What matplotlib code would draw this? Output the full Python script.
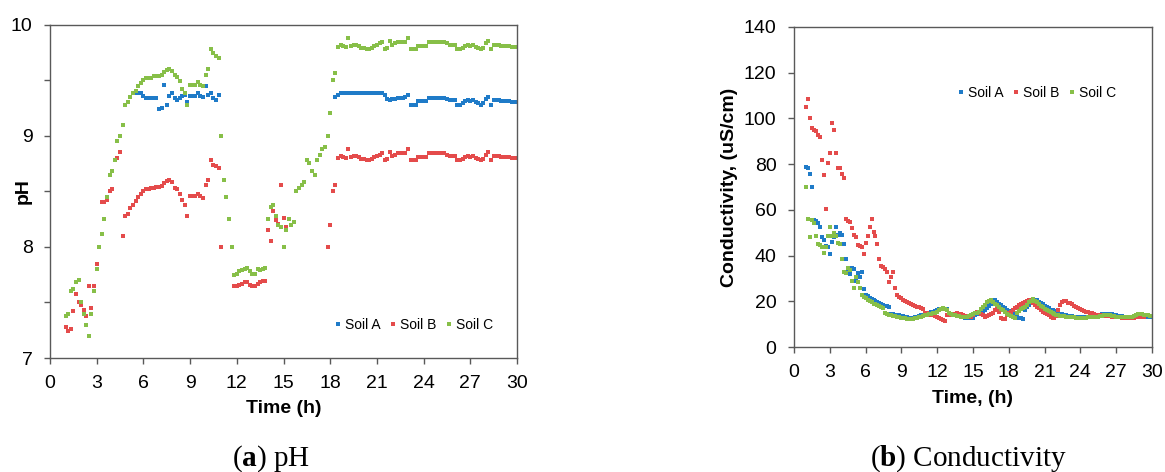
import numpy as np
import matplotlib
matplotlib.use("Agg")
import matplotlib.pyplot as plt
from matplotlib.ticker import MultipleLocator

nan = np.nan

# sampling every 10 minutes from 1 h to 30 h (6 readings per row = 1 hour)
hours = 1 + np.arange(175) / 6

series_names = ["Soil A", "Soil B", "Soil C"]
colors = ["#1f7bc8", "#e44b4b", "#87bf48"]

# ---- pH readings ----
ph_a = [
    nan, nan, nan, nan, nan, nan,
    nan, nan, nan, nan, nan, nan,
    nan, nan, nan, nan, nan, nan,
    nan, nan, nan, nan, nan, nan,
    nan, nan, 9.38, 9.38, 9.38, 9.38,
    9.36, 9.34, 9.34, 9.34, 9.34, 9.34,
    9.24, 9.25, 9.46, 9.28, 9.36, 9.38,
    9.34, 9.32, 9.34, 9.36, 9.37, 9.30,
    9.36, 9.36, 9.36, 9.38, 9.36, 9.35,
    9.45, 9.37, 9.38, 9.34, 9.32, 9.37,
    nan, nan, nan, nan, nan, nan,
    nan, nan, nan, nan, nan, nan,
    nan, nan, nan, nan, nan, nan,
    nan, nan, nan, nan, nan, nan,
    nan, nan, nan, nan, nan, nan,
    nan, nan, nan, nan, nan, nan,
    nan, nan, nan, nan, nan, nan,
    nan, nan, 9.35, 9.37, 9.38, 9.38,
    9.38, 9.38, 9.38, 9.38, 9.38, 9.38,
    9.38, 9.38, 9.38, 9.38, 9.38, 9.38,
    9.38, 9.38, 9.38, 9.37, 9.33, 9.32,
    9.33, 9.33, 9.34, 9.34, 9.34, 9.35,
    9.37, 9.28, 9.28, 9.28, 9.31, 9.31,
    9.31, 9.31, 9.34, 9.34, 9.34, 9.34,
    9.34, 9.34, 9.34, 9.33, 9.32, 9.32,
    9.32, 9.28, 9.28, 9.29, 9.31, 9.32,
    9.31, 9.32, 9.30, 9.29, 9.28, 9.29,
    9.33, 9.35, 9.28, 9.32, 9.32, 9.32,
    9.31, 9.31, 9.31, 9.31, 9.30, 9.30,
    9.30,
]
ph_b = [
    7.28, 7.24, 7.26, 7.42, 7.58, 7.50,
    7.48, 7.43, 7.38, 7.65, 7.45, 7.65,
    7.85, nan, 8.40, 8.40, 8.42, 8.50,
    8.52, nan, 8.80, 8.85, 8.10, 8.28,
    8.30, 8.35, 8.38, 8.41, 8.45, 8.48,
    8.50, 8.52, 8.52, 8.53, 8.53, 8.54,
    8.54, 8.55, 8.57, 8.59, 8.60, 8.58,
    8.53, 8.52, 8.48, 8.42, 8.38, 8.28,
    8.46, 8.46, 8.46, 8.48, 8.46, 8.44,
    8.56, 8.60, 8.78, 8.74, 8.73, 8.71,
    8.00, nan, nan, nan, nan, 7.65,
    7.65, 7.66, 7.67, 7.68, 7.68, 7.66,
    7.65, 7.65, 7.67, 7.68, 7.69, 7.69,
    8.15, 8.05, 8.32, 8.24, 8.21, 8.56,
    8.26, 8.18, nan, nan, nan, nan,
    nan, nan, nan, nan, nan, nan,
    nan, nan, nan, nan, nan, 8.00,
    8.20, 8.50, 8.56, 8.80, 8.82, 8.81,
    8.80, 8.88, 8.81, 8.82, 8.82, 8.81,
    8.79, 8.79, 8.78, 8.78, 8.79, 8.81,
    8.82, 8.83, 8.84, 8.78, 8.79, 8.85,
    8.82, 8.83, 8.84, 8.84, 8.84, 8.84,
    8.88, 8.78, 8.78, 8.78, 8.81, 8.81,
    8.81, 8.81, 8.84, 8.84, 8.84, 8.84,
    8.84, 8.84, 8.84, 8.83, 8.82, 8.82,
    8.82, 8.78, 8.78, 8.79, 8.81, 8.82,
    8.81, 8.82, 8.80, 8.79, 8.78, 8.79,
    8.83, 8.85, 8.78, 8.82, 8.82, 8.82,
    8.81, 8.81, 8.81, 8.81, 8.80, 8.80,
    8.80,
]
ph_c = [
    7.38, 7.40, 7.60, 7.62, 7.68, 7.70,
    7.50, 7.40, 7.30, 7.20, 7.40, 7.60,
    7.80, 8.00, 8.12, 8.25, 8.45, 8.65,
    8.68, 8.78, 8.95, 9.00, 9.10, 9.28,
    9.30, 9.35, 9.38, 9.40, 9.45, 9.47,
    9.50, 9.52, 9.52, 9.52, 9.54, 9.54,
    9.54, 9.55, 9.57, 9.59, 9.60, 9.58,
    9.55, 9.53, 9.49, 9.42, 9.38, 9.28,
    9.46, 9.46, 9.46, 9.48, 9.46, 9.45,
    9.55, 9.60, 9.78, 9.74, 9.72, 9.70,
    9.00, 8.60, 8.45, 8.25, 8.00, 7.75,
    7.76, 7.78, 7.79, 7.80, 7.81, 7.78,
    7.76, 7.76, 7.80, 7.79, 7.80, 7.81,
    8.25, 8.36, 8.38, 8.28, 8.20, 8.18,
    8.00, 8.15, 8.25, 8.20, 8.22, 8.50,
    8.53, 8.56, 8.58, 8.78, 8.75, 8.68,
    8.65, 8.78, 8.83, 8.88, 8.90, 9.00,
    9.20, 9.50, 9.56, 9.80, 9.82, 9.81,
    9.80, 9.88, 9.81, 9.82, 9.82, 9.81,
    9.79, 9.79, 9.78, 9.78, 9.79, 9.81,
    9.82, 9.83, 9.84, 9.78, 9.79, 9.85,
    9.82, 9.83, 9.84, 9.84, 9.84, 9.84,
    9.88, 9.78, 9.78, 9.78, 9.81, 9.81,
    9.81, 9.81, 9.84, 9.84, 9.84, 9.84,
    9.84, 9.84, 9.84, 9.83, 9.82, 9.82,
    9.82, 9.78, 9.78, 9.79, 9.81, 9.82,
    9.81, 9.82, 9.80, 9.79, 9.78, 9.79,
    9.83, 9.85, 9.78, 9.82, 9.82, 9.82,
    9.81, 9.81, 9.81, 9.81, 9.80, 9.80,
    9.80,
]

# ---- conductivity readings (uS/cm) ----
cond_a = [
    78.8, 78.2, 75.7, 70.1, 55.6, 55.0,
    54.4, 52.6, 48.3, 47.0, 44.2, 43.9,
    40.7, 46.1, 48.3, 52.6, 49.0, 49.7,
    48.8, 45.1, 38.4, 33.4, 31.8, 34.4,
    34.0, 28.9, 32.2, 30.8, 33.0, 25.5,
    22.8, 22.2, 21.6, 21.0, 20.5, 20.1,
    19.7, 19.3, 18.9, 18.5, 18.1, 17.8,
    17.4, 14.5, 14.3, 14.1, 14.0, 13.8,
    13.6, 13.4, 13.3, 13.1, 12.9, 12.7,
    12.5, 13.0, 13.3, 13.6, 13.8, 14.0,
    14.3, 14.6, 15.0, 15.3, 15.5, 15.8,
    16.2, 16.5, 16.8, 17.0, 16.8, 16.5,
    14.5, 14.2, 14.0, 13.8, 13.6, 13.4,
    13.3, 13.0, 12.8, 12.6, 12.5, 12.5,
    12.6, 14.0, 14.3, 14.6, 14.8, 15.2,
    16.0, 17.0, 18.0, 19.0, 19.8, 20.5,
    19.5, 18.8, 18.2, 17.6, 17.0, 16.4,
    15.8, 15.2, 14.6, 14.0, 13.4, 12.8,
    12.5, 12.4, 16.0, 17.5, 18.5, 19.2,
    19.8, 20.4, 20.6, 19.9, 19.2, 18.6,
    18.0, 17.4, 16.9, 16.4, 16.0, 15.6,
    15.2, 14.9, 14.6, 14.3, 14.1, 13.9,
    13.7, 13.5, 13.4, 13.3, 13.2, 13.2,
    13.1, 13.1, 13.1, 13.0, 13.0, 13.0,
    13.0, 13.1, 13.3, 13.6, 14.0, 14.3,
    14.5, 14.6, 14.6, 14.5, 14.3, 14.0,
    13.8, 13.6, 13.5, 13.4, 13.3, 13.3,
    13.2, 13.2, 13.2, 13.3, 13.4, 13.5,
    13.6, 13.5, 13.4, 13.4, 13.3, 13.3,
    13.3,
]
cond_b = [
    104.9, 108.4, 100.0, 95.7, 94.9, 94.6,
    92.8, 91.7, 81.8, 75.4, 60.4, 80.6,
    85.0, 98.1, 94.9, 84.7, 78.5, 78.2,
    75.7, 74.1, 55.9, 55.3, 54.5, 52.2,
    49.0, 48.0, 44.6, 44.3, 43.9, 40.7,
    45.4, 48.6, 52.6, 55.9, 50.5, 48.6,
    45.1, 38.4, 35.6, 34.9, 34.1, 33.0,
    28.6, 30.8, 32.7, 25.7, 22.8, 22.0,
    21.3, 20.6, 20.1, 19.7, 19.2, 18.8,
    18.3, 18.0, 17.7, 17.4, 17.1, 16.8,
    15.0, 14.7, 14.4, 14.0, 13.8, 13.5,
    13.3, 12.8, 12.1, 11.8, 11.5, 14.0,
    14.2, 14.4, 14.5, 14.6, 14.7, 14.5,
    14.3, 14.0, 13.6, 13.3, 13.0, 13.2,
    14.0, 14.7, 15.3, 15.5, 14.5, 13.8,
    13.3, 13.5, 14.0, 14.4, 14.7, 16.0,
    16.9, 15.5, 12.5, 12.3, 12.1, 14.0,
    15.0, 15.5, 16.3, 16.9, 17.5, 18.2,
    18.8, 19.1, 19.5, 20.0, 20.6, 20.0,
    19.1, 18.4, 17.6, 16.9, 16.2, 15.5,
    14.9, 14.3, 13.8, 13.3, 12.9, 12.5,
    13.5, 16.0, 18.4, 19.5, 20.3, 20.0,
    19.4, 19.1, 18.6, 18.1, 17.6, 17.1,
    16.6, 16.2, 15.8, 15.4, 15.1, 14.8,
    14.7, 14.4, 14.2, 14.0, 13.9, 13.8,
    13.7, 13.6, 13.5, 13.4, 13.3, 13.2,
    13.1, 13.0, 13.0, 12.9, 12.9, 12.9,
    12.9, 12.9, 12.9, 12.9, 13.0, 13.0,
    13.1, 13.1, 13.0, nan, nan, nan,
    nan,
]
cond_c = [
    70.1, 56.0, 48.3, 55.6, 54.4, 48.6,
    45.1, 44.6, 43.9, 41.0, 43.9, 48.6,
    52.6, 48.6, 49.7, 48.6, 45.4, 45.0,
    38.4, 32.7, 32.2, 34.4, 33.7, 28.9,
    25.7, 30.8, 28.6, 25.7, 22.8, 22.0,
    21.3, 20.6, 20.0, 19.5, 19.0, 18.6,
    18.2, 17.8, 17.4, 17.0, 14.7, 14.4,
    14.0, 13.8, 13.6, 13.4, 13.2, 13.0,
    12.9, 12.7, 12.5, 12.3, 12.1, 12.2,
    12.4, 12.6, 12.8, 13.0, 13.3, 13.6,
    13.8, 14.0, 14.3, 14.5, 14.7, 15.0,
    15.5, 16.0, 16.5, 16.9, 16.6, 16.2,
    14.7, 14.4, 14.1, 13.8, 13.6, 13.4,
    13.3, 13.1, 13.0, 13.0, 13.5, 14.0,
    14.5, 14.8, 15.0, 15.5, 16.5, 17.5,
    18.5, 19.5, 20.3, 20.6, 19.8, 19.0,
    18.3, 17.6, 16.8, 16.0, 15.3, 14.6,
    14.0, 13.5, 13.0, 12.6, 15.0, 15.8,
    16.5, 16.9, 17.5, 18.5, 19.5, 20.3,
    20.9, 20.3, 19.5, 18.8, 18.1, 17.4,
    16.8, 16.2, 15.6, 15.1, 14.7, 14.4,
    14.1, 13.9, 13.7, 13.5, 13.4, 13.3,
    13.2, 13.1, 13.0, 13.0, 12.9, 12.9,
    12.9, 12.9, 12.9, 12.9, 13.0, 13.0,
    13.0, 13.0, 13.1, 13.2, 13.4, 13.6,
    13.8, 14.0, 14.0, 13.9, 13.7, 13.5,
    13.3, 13.2, 13.1, 13.0, 13.0, 13.0,
    13.0, 13.1, 13.3, 13.6, 14.0, 14.3,
    14.5, 14.4, 14.2, 14.0, 13.8, 13.6,
    13.4,
]

plt.rcParams["font.family"] = ["Liberation Sans", "DejaVu Sans"]
plt.rcParams["mathtext.fontset"] = "custom"
plt.rcParams["mathtext.rm"] = "Liberation Serif"
plt.rcParams["mathtext.bf"] = "Liberation Serif:bold"

fig = plt.figure(figsize=(11.65, 4.72), dpi=100)
ax1 = fig.add_axes([0.0429, 0.2415, 0.4009, 0.7065])
ax2 = fig.add_axes([0.6815, 0.2648, 0.3073, 0.6780])

spine_col = "#595959"


def style_axes(ax):
    for s in ax.spines.values():
        s.set_color(spine_col)
        s.set_linewidth(1.0)
    ax.tick_params(axis="both", which="both", direction="out", length=4.5,
                   width=1.0, color=spine_col, labelsize=14, pad=8)
    ax.set_xlim(0, 30)
    ax.xaxis.set_major_locator(MultipleLocator(3))


# (a) pH
for vals, name, col in zip([ph_a, ph_b, ph_c], series_names, colors):
    ax1.plot(hours, vals, ls="none", marker="s", ms=2.4, mew=0, color=col, label=name)
style_axes(ax1)
ax1.set_ylim(7, 10)
ax1.yaxis.set_major_locator(MultipleLocator(1))
ax1.yaxis.set_minor_locator(MultipleLocator(0.5))
ax1.set_xlabel("Time (h)", fontsize=14, fontweight="bold")
ax1.set_ylabel("pH", fontsize=14, fontweight="bold")
ax1.xaxis.set_label_coords(0.5, -0.125)
ax1.yaxis.set_label_coords(-0.04, 0.5)
ax1.legend(loc="center", bbox_to_anchor=(0.78, 0.10), ncol=3, frameon=False,
           fontsize=10, handlelength=0.4, handletextpad=0.3, columnspacing=0.7,
           markerscale=1.0)

# (b) Conductivity
for vals, name, col in zip([cond_a, cond_b, cond_c], series_names, colors):
    ax2.plot(hours, vals, ls="none", marker="s", ms=2.4, mew=0, color=col, label=name)
style_axes(ax2)
ax2.set_ylim(0, 140)
ax2.yaxis.set_major_locator(MultipleLocator(20))
ax2.set_xlabel("Time, (h)", fontsize=14, fontweight="bold")
ax2.set_ylabel("Conductivity, (uS/cm)", fontsize=14, fontweight="bold")
ax2.xaxis.set_label_coords(0.5, -0.135)
ax2.yaxis.set_label_coords(-0.157, 0.5)
ax2.legend(loc="center", bbox_to_anchor=(0.68, 0.795), ncol=3, frameon=False,
           fontsize=10, handlelength=0.4, handletextpad=0.3, columnspacing=0.7,
           markerscale=1.0)

# captions under the panels
fig.text(0.2326, 0.0275, r"($\mathbf{a}$) pH", ha="center", va="center",
         fontsize=21, family="Liberation Serif")
fig.text(0.831, 0.0275, r"($\mathbf{b}$) Conductivity", ha="center", va="center",
         fontsize=21, family="Liberation Serif")

fig.savefig("out.png", dpi=100)
